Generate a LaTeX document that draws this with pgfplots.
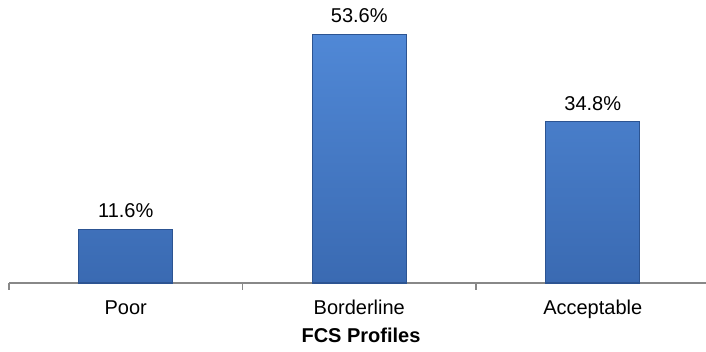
\documentclass[border=0pt]{standalone}
\usepackage{pgfplots}
\pgfplotsset{compat=1.18}
\usepackage{fontspec}
\setmainfont{Liberation Sans}
\definecolor{bartop}{RGB}{80,136,214}
\definecolor{barbot}{RGB}{58,106,178}
\definecolor{baredge}{RGB}{44,84,146}
\definecolor{axgray}{RGB}{136,136,136}
\begin{document}
\begin{tikzpicture}
\path[use as bounding box] (0,0) rectangle (353pt,176pt);
\begin{axis}[
  at={(4.5pt,34.5pt)}, anchor=south west,
  scale only axis,
  width=348.5pt, height=141.5pt,
  xmin=-0.5, xmax=2.485,
  ymin=0, ymax=61.1,
  axis y line=none,
  axis x line*=bottom,
  x axis line style={axgray, line width=0.6pt, -},
  xtick={0,1,2},
  xticklabels={Poor,Borderline,Acceptable},
  major tick length=0pt,
  xticklabel style={anchor=base, yshift=-16pt, font=\fontsize{10pt}{12pt}\selectfont},
  extra x ticks={-0.5,0.5,1.5},
  extra x tick labels={},
  extra x tick style={major tick length=3.5pt, tick style={axgray, line width=0.6pt}, tick align=outside},
  xlabel={FCS Profiles},
  xlabel style={at={(axis description cs:0.505,0)}, anchor=base, yshift=-30pt, font=\bfseries\fontsize{10pt}{12pt}\selectfont},
  ybar, bar width=47pt,
  /pgf/number format/assume math mode=true,
  nodes near coords={\pgfmathprintnumber[fixed,precision=1,fixed zerofill,assume math mode=true]{\pgfplotspointmeta}\%},
  nodes near coords style={anchor=south, inner sep=0pt, yshift=5.5pt, font=\fontsize{10pt}{12pt}\selectfont, black},
  clip=false,
]
\addplot[shade, top color=bartop, bottom color=barbot, draw=baredge, line width=0.6pt] coordinates {(0,11.6) (1,53.6) (2,34.8)};
\end{axis}
\end{tikzpicture}
\end{document}
